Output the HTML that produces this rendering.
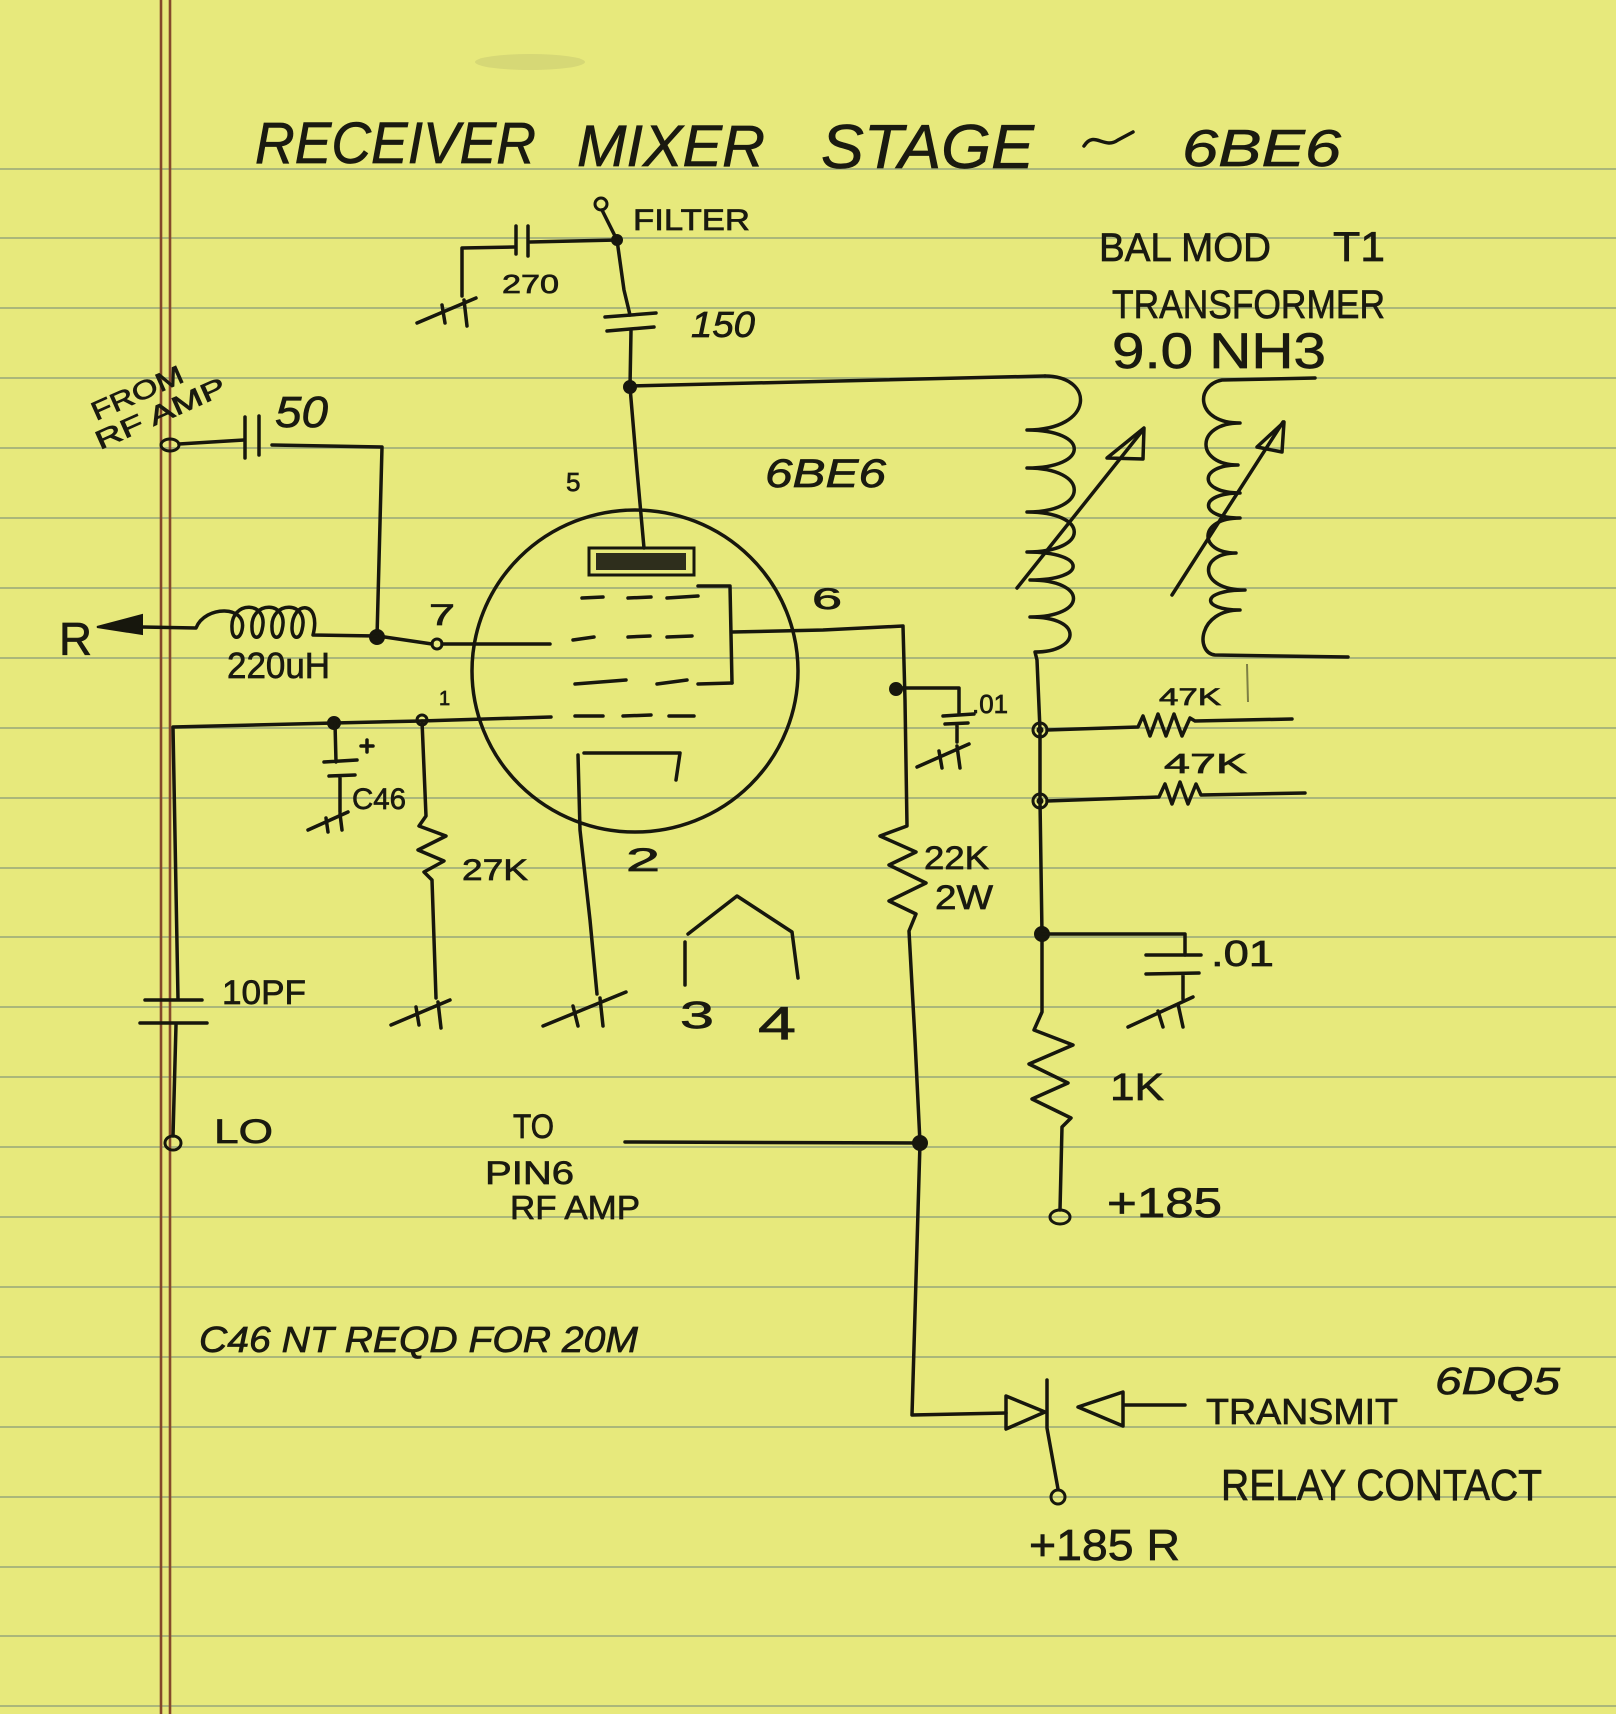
<!DOCTYPE html>
<html>
<head>
<meta charset="utf-8">
<style>
html,body{margin:0;padding:0;background:#e7e97c;}
svg{display:block;}
.t{font-family:"Liberation Sans",sans-serif;fill:#1a1a10;stroke:#1a1a10;stroke-width:0.7;}
.i{font-style:italic;}
.w{fill:none;stroke:#17170d;stroke-width:3.5;stroke-linecap:round;stroke-linejoin:round;}
.f{fill:#17170d;stroke:#17170d;stroke-width:2;}
.o{fill:none;stroke:#17170d;stroke-width:3;}
</style>
</head>
<body>
<svg width="1616" height="1714" viewBox="0 0 1616 1714" xmlns="http://www.w3.org/2000/svg">
<rect width="1616" height="1714" fill="#e7e97c"/>
<!-- ruled lines -->
<path d="M0,169H1616M0,238H1616M0,308H1616M0,378H1616M0,448H1616M0,518H1616M0,588H1616M0,658H1616M0,728H1616M0,798H1616M0,868H1616M0,937H1616M0,1007H1616M0,1077H1616M0,1147H1616M0,1217H1616M0,1287H1616M0,1357H1616M0,1427H1616M0,1497H1616M0,1567H1616M0,1636H1616M0,1706H1616" stroke="#97a57a" stroke-width="2" fill="none" opacity="0.75"/>
<!-- margin lines -->
<path d="M161,0V1714M170,0V1714" stroke="#84482a" stroke-width="2.6" fill="none"/>
<!-- faint smudge -->
<ellipse cx="530" cy="62" rx="55" ry="8" fill="#8a8a60" opacity="0.18"/>

<!-- Title -->
<text class="t i" x="255" y="163" font-size="58" textLength="281" lengthAdjust="spacingAndGlyphs">RECEIVER</text>
<text class="t i" x="577" y="166" font-size="58" textLength="188" lengthAdjust="spacingAndGlyphs">MIXER</text>
<text class="t i" x="821" y="168" font-size="62" textLength="213" lengthAdjust="spacingAndGlyphs">STAGE</text>
<path class="w" d="M1084,146 C1094,130 1104,150 1118,140 L1133,132"/>
<text class="t i" x="1182" y="166" font-size="52" textLength="159" lengthAdjust="spacingAndGlyphs">6BE6</text>

<!-- FILTER section -->
<circle class="o" cx="601" cy="204" r="6"/>
<path class="w" d="M602,210 L617,240"/>
<circle class="f" cx="617" cy="240" r="5"/>
<text class="t" x="633" y="230" font-size="30" textLength="117" lengthAdjust="spacingAndGlyphs">FILTER</text>
<path class="w" d="M617,240 L530,242"/>
<path class="w" d="M516,226 L516,254 M528,226 L528,256"/>
<path class="w" d="M514,247 L462,248 L462,296"/>
<g transform="translate(462,296)"><path class="w" d="M-45,27 L14,2 M-20,9 L-17,27 M2,4 L5,30"/></g>
<text class="t" x="502" y="293" font-size="26" textLength="57" lengthAdjust="spacingAndGlyphs">270</text>
<path class="w" d="M617,240 L624,290 L630,315"/>
<path class="w" d="M605,317 L656,313 M607,331 L654,327"/>
<text class="t i" x="691" y="337" font-size="36" textLength="64" lengthAdjust="spacingAndGlyphs">150</text>
<path class="w" d="M631,331 L630,387"/>
<circle class="f" cx="630" cy="387" r="6"/>
<path class="w" d="M630,386 L1045,376"/>
<path class="w" d="M630,387 L637,470 L644,548"/>
<text class="t" x="566" y="491" font-size="26">5</text>
<text class="t i" x="765" y="487" font-size="40" textLength="121" lengthAdjust="spacingAndGlyphs">6BE6</text>

<!-- Tube -->
<ellipse class="w" cx="635" cy="671" rx="163" ry="161"/>
<rect x="589" y="548" width="105" height="27" fill="none" stroke="#17170d" stroke-width="3"/>
<rect x="596" y="553" width="90" height="17" fill="#2e2e1c"/>
<path class="w" d="M582,598 L603,597 M628,598 L651,597 M667,598 L698,596
M573,640 L594,637 M628,637 L650,636 M667,637 L692,636
M575,684 L626,680 M657,684 L687,680 M698,684 L732,683
M575,716 L603,716 M623,716 L651,715 M669,716 L694,716"/>
<path class="w" d="M698,586 L730,586 L732,683"/>
<!-- pin 6 -->
<path class="w" d="M732,632 L823,630 L903,626 L905,700 L907,826 L880,836 L916,852 L889,865 L926,883 L889,901 L916,914 L909,931 L915,1040 L920,1143 L912,1415 L1006,1413"/>
<text class="t" x="812" y="609" font-size="30" textLength="30" lengthAdjust="spacingAndGlyphs">6</text>
<circle class="f" cx="896" cy="689" r="6"/>
<path class="w" d="M896,688 L959,688 L959,713"/>
<path class="w" d="M943,716 L974,714 M945,724 L968,723 M957,724 L957,742"/>
<g transform="translate(957,742)"><path class="w" d="M-40,25 L12,2 M-18,9 L-15,26 M0,4 L3,26"/></g>
<text class="t" x="972" y="713" font-size="26" textLength="36" lengthAdjust="spacingAndGlyphs">.01</text>
<text class="t" x="924" y="869" font-size="32" textLength="65" lengthAdjust="spacingAndGlyphs">22K</text>
<text class="t" x="935" y="909" font-size="34" textLength="58" lengthAdjust="spacingAndGlyphs">2W</text>

<!-- pin 7 / inductor / from RF amp -->
<path class="w" d="M378,636 L432,644"/>
<circle class="o" cx="437" cy="644" r="5"/>
<path class="w" d="M442,644 L550,644"/>
<text class="t" x="429" y="625" font-size="30" textLength="26" lengthAdjust="spacingAndGlyphs">7</text>
<ellipse class="o" cx="170" cy="445" rx="9" ry="6"/>
<path class="w" d="M179,444 L244,440"/>
<path class="w" d="M245,417 L245,458 M259,416 L259,455"/>
<path class="w" d="M272,445 L382,447 L377,637"/>
<circle class="f" cx="377" cy="637" r="7"/>
<text class="t" transform="translate(96,421) rotate(-24)" font-size="26" textLength="98" lengthAdjust="spacingAndGlyphs">FROM</text>
<text class="t" transform="translate(100,450) rotate(-24)" font-size="26" textLength="140" lengthAdjust="spacingAndGlyphs">RF AMP</text>
<text class="t i" x="275" y="427" font-size="44" textLength="53" lengthAdjust="spacingAndGlyphs">50</text>
<path class="w" d="M377,636 L313,635 C322,600 292,600 292,628 C292,640 300,640 302,630 C310,600 270,600 272,628 C272,640 280,640 282,630 C290,600 250,600 252,628 C252,640 260,640 262,630 C270,600 230,600 232,628 C232,640 240,640 242,630 C248,605 205,605 196,628 L142,627"/>
<path class="f" d="M97,627 L142,615 L142,634 Z"/>
<text class="t" x="59" y="655" font-size="46" textLength="33" lengthAdjust="spacingAndGlyphs">R</text>
<text class="t" x="227" y="678" font-size="36" textLength="103" lengthAdjust="spacingAndGlyphs">220uH</text>

<!-- pin 1 / C46 / 27K / 10PF / LO -->
<path class="w" d="M551,717 L421,721 L334,723 L173,727 L178,999"/>
<circle class="f" cx="334" cy="723" r="6"/>
<circle class="o" cx="422" cy="720" r="5"/>
<text class="t" x="439" y="705" font-size="20">1</text>
<path class="w" d="M335,723 L336,762 M324,762 L357,760 M329,776 L355,775 M340,776 L340,812"/>
<path class="w" d="M361,746 L373,746 M367,740 L367,752"/>
<g transform="translate(340,812)"><path class="w" d="M-32,18 L8,0 M-14,6 L-12,20 M0,2 L2,18"/></g>
<text class="t" x="352" y="809" font-size="30" textLength="54" lengthAdjust="spacingAndGlyphs">C46</text>
<path class="w" d="M422,721 L426,816 L419,826 L446,836 L418,850 L444,861 L424,872 L432,880 L436,998"/>
<g transform="translate(436,998)"><path class="w" d="M-45,27 L14,2 M-20,9 L-17,27 M2,4 L5,30"/></g>
<text class="t" x="462" y="880" font-size="30" textLength="66" lengthAdjust="spacingAndGlyphs">27K</text>
<path class="w" d="M145,1000 L202,1000 M140,1023 L207,1023 M176,1025 L173,1136"/>
<ellipse class="o" cx="173" cy="1143" rx="8" ry="7"/>
<text class="t" x="222" y="1004" font-size="34" textLength="84" lengthAdjust="spacingAndGlyphs">10PF</text>
<text class="t" x="214" y="1143" font-size="34" textLength="59" lengthAdjust="spacingAndGlyphs">LO</text>

<!-- cathode / heater -->
<path class="w" d="M676,780 L680,753 L584,753"/>
<path class="w" d="M578,755 L580,830 L590,920 L597,994"/>
<g transform="translate(598,994)"><path class="w" d="M-55,32 L28,-2 M-25,12 L-20,32 M2,4 L5,32"/></g>
<text class="t" x="626" y="871" font-size="32" textLength="34" lengthAdjust="spacingAndGlyphs">2</text>
<path class="w" d="M685,985 L685,942 M688,934 L737,896 L792,932 L798,978"/>
<text class="t" x="680" y="1028" font-size="38" textLength="34" lengthAdjust="spacingAndGlyphs">3</text>
<text class="t" x="758" y="1039" font-size="46" textLength="38" lengthAdjust="spacingAndGlyphs">4</text>

<!-- TO PIN6 -->
<path class="w" d="M625,1142 L920,1143"/>
<circle class="f" cx="920" cy="1143" r="7"/>
<text class="t" x="513" y="1138" font-size="34" textLength="41" lengthAdjust="spacingAndGlyphs">TO</text>
<text class="t" x="485" y="1184" font-size="32" textLength="89" lengthAdjust="spacingAndGlyphs">PIN6</text>
<text class="t" x="510" y="1219" font-size="33" textLength="130" lengthAdjust="spacingAndGlyphs">RF AMP</text>
<text class="t i" x="199" y="1352" font-size="36" textLength="439" lengthAdjust="spacingAndGlyphs">C46  NT  REQD FOR 20M</text>

<!-- Transformer -->
<text class="t" x="1099" y="261" font-size="40" textLength="172" lengthAdjust="spacingAndGlyphs">BAL MOD</text>
<text class="t" x="1333" y="261" font-size="42" textLength="52" lengthAdjust="spacingAndGlyphs">T1</text>
<text class="t" x="1112" y="318" font-size="40" textLength="273" lengthAdjust="spacingAndGlyphs">TRANSFORMER</text>
<text class="t" x="1112" y="368" font-size="50" textLength="214" lengthAdjust="spacingAndGlyphs">9.0 NH3</text>
<path class="w" d="M1045,376 C1095,376 1095,430 1027,430 C1090,430 1090,468 1027,468 C1090,468 1090,512 1027,512 C1090,512 1090,552 1027,552 C1088,552 1088,580 1030,580 C1088,580 1088,617 1030,617 C1085,617 1080,652 1035,652 L1037,660 L1040,730 L1040,801 L1042,934 L1042,1012 L1034,1030 L1073,1045 L1029,1064 L1068,1083 L1032,1099 L1071,1118 L1062,1127 L1060,1210"/>
<path class="w" d="M1017,588 L1143,430"/>
<path class="w" d="M1107,458 L1144,428 L1143,459 Z"/>
<path class="w" d="M1315,378 L1222,380 C1195,385 1195,423 1240,423 C1195,423 1195,465 1238,465 C1198,465 1198,493 1240,493 C1198,493 1198,518 1240,518 C1198,518 1198,553 1236,553 C1198,553 1198,590 1245,590 C1200,590 1200,610 1240,610 C1198,610 1195,653 1215,655 L1348,657"/>
<path class="w" d="M1172,595 L1283,422"/>
<path class="w" d="M1257,447 L1284,422 L1282,452 Z"/>
<path d="M1247,664 L1248,702" stroke="#17170d" stroke-width="2" opacity="0.5"/>

<!-- right column nodes and resistors -->
<circle class="o" cx="1040" cy="730" r="7"/>
<circle class="f" cx="1040" cy="730" r="2.5"/>
<circle class="o" cx="1040" cy="801" r="7"/>
<circle class="f" cx="1040" cy="801" r="2.5"/>
<path class="w" d="M1047,730 L1138,727 L1143,716 L1150,736 L1158,714 L1166,736 L1174,714 L1182,736 L1190,718 L1195,721 L1292,719"/>
<text class="t" x="1159" y="705" font-size="24" textLength="62" lengthAdjust="spacingAndGlyphs">47K</text>
<path class="w" d="M1047,801 L1159,797 L1165,784 L1172,804 L1180,782 L1188,804 L1196,784 L1201,795 L1305,793"/>
<text class="t" x="1164" y="773" font-size="28" textLength="83" lengthAdjust="spacingAndGlyphs">47K</text>
<circle class="f" cx="1042" cy="934" r="7"/>
<path class="w" d="M1042,934 L1185,934 L1185,955"/>
<path class="w" d="M1146,955 L1201,955 M1146,974 L1199,973 M1183,974 L1183,999"/>
<g transform="translate(1183,999)"><path class="w" d="M-55,28 L10,-2 M-25,12 L-20,28 M-5,5 L0,28"/></g>
<text class="t" x="1211" y="966" font-size="36" textLength="63" lengthAdjust="spacingAndGlyphs">.01</text>
<text class="t" x="1110" y="1100" font-size="38" textLength="54" lengthAdjust="spacingAndGlyphs">1K</text>
<ellipse class="o" cx="1060" cy="1217" rx="10" ry="7"/>
<text class="t" x="1107" y="1217" font-size="42" textLength="115" lengthAdjust="spacingAndGlyphs">+185</text>

<!-- relay -->
<path class="w" d="M1006,1396 L1045,1412 L1006,1429 Z"/>
<path class="w" d="M1047,1380 L1047,1428 L1058,1489"/>
<circle class="o" cx="1058" cy="1497" r="7"/>
<path class="w" d="M1185,1405 L1123,1405 M1078,1407 L1123,1392 L1123,1426 Z"/>
<text class="t" x="1206" y="1424" font-size="36" textLength="192" lengthAdjust="spacingAndGlyphs">TRANSMIT</text>
<text class="t i" x="1435" y="1394" font-size="38" textLength="125" lengthAdjust="spacingAndGlyphs">6DQ5</text>
<text class="t" x="1221" y="1500" font-size="44" textLength="321" lengthAdjust="spacingAndGlyphs">RELAY CONTACT</text>
<text class="t" x="1029" y="1560" font-size="44" textLength="151" lengthAdjust="spacingAndGlyphs">+185 R</text>
</svg>
</body>
</html>
